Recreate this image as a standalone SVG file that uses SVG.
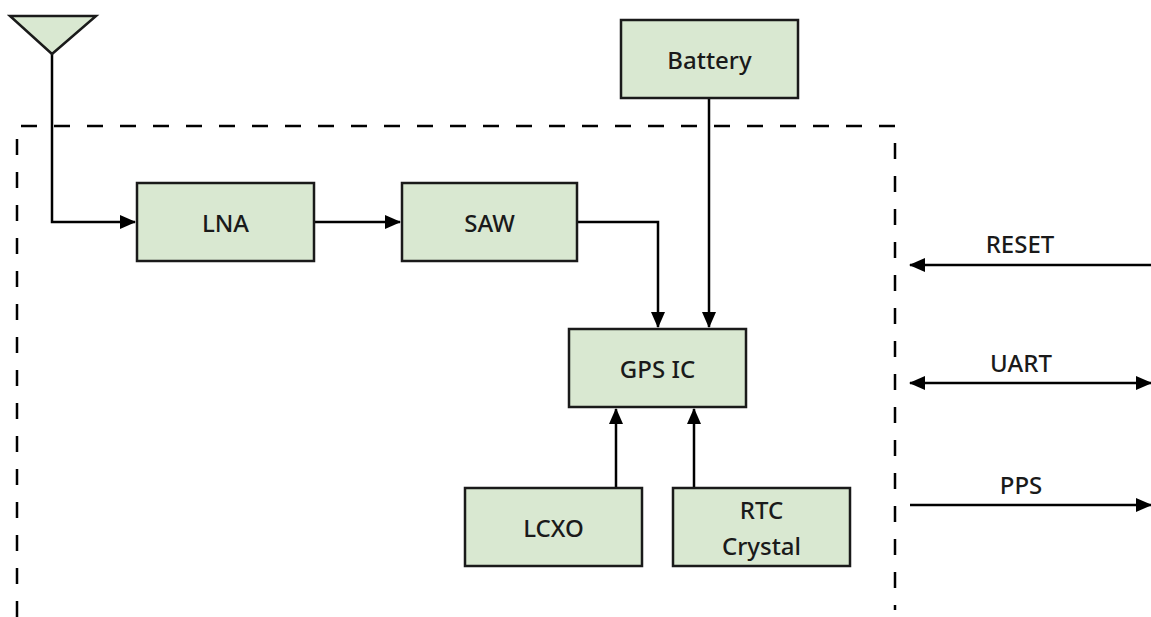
<svg xmlns="http://www.w3.org/2000/svg" width="1151" height="617" viewBox="0 0 1151 617">
<defs>
<style>
.box{fill:#d9e8d1;stroke:#1a1a1a;stroke-width:2.5}
.lbl{font-family:"Noto Sans","DejaVu Sans",sans-serif;font-size:24px;font-weight:500;fill:#1a1a1a;text-anchor:middle}
.ln{fill:none;stroke:#000;stroke-width:2.5}
.dash{fill:none;stroke:#000;stroke-width:2.5;stroke-dasharray:16 17}
</style>
<marker id="ah" markerUnits="userSpaceOnUse" markerWidth="16" markerHeight="14" refX="15" refY="7" orient="auto-start-reverse" viewBox="0 0 16 14">
<path d="M0,0 L16,7 L0,14 Z" fill="#000"/>
</marker>
</defs>
<rect width="1151" height="617" fill="#fff"/>
<g id="boundary">
<path class="dash" d="M17,617 L17,126 L895,126 L895,610"/>
</g>
<g id="connectors">
<path class="ln" d="M52,54 L52,222 L135,222" marker-end="url(#ah)"/>
<path class="ln" d="M314,222 L400,222" marker-end="url(#ah)"/>
<path class="ln" d="M577,222 L658,222 L658,327" marker-end="url(#ah)"/>
<path class="ln" d="M709,98 L709,327" marker-end="url(#ah)"/>
<path class="ln" d="M616,488 L616,409" marker-end="url(#ah)"/>
<path class="ln" d="M694,488 L694,409" marker-end="url(#ah)"/>
<path class="ln" d="M1151,265 L910,265" marker-end="url(#ah)"/>
<path class="ln" d="M910,383 L1151,383" marker-start="url(#ah)" marker-end="url(#ah)"/>
<path class="ln" d="M910,505 L1151,505" marker-end="url(#ah)"/>
</g>
<g id="antenna">
<path class="box" d="M10,16 L96,16 L52,54 Z"/>
</g>
<g id="battery">
<rect class="box" x="621" y="20" width="177" height="78"/>
<text class="lbl" x="709.5" y="59" dominant-baseline="central">Battery</text>
</g>
<g id="lna">
<rect class="box" x="137" y="183" width="177" height="78"/>
<text class="lbl" x="225.5" y="222" dominant-baseline="central">LNA</text>
</g>
<g id="saw">
<rect class="box" x="402" y="183" width="175" height="78"/>
<text class="lbl" x="489.5" y="222" dominant-baseline="central">SAW</text>
</g>
<g id="gps-ic">
<rect class="box" x="569" y="329" width="177" height="78"/>
<text class="lbl" x="657.5" y="368" dominant-baseline="central">GPS IC</text>
</g>
<g id="lcxo">
<rect class="box" x="465" y="488" width="177" height="78"/>
<text class="lbl" x="553.5" y="527" dominant-baseline="central">LCXO</text>
</g>
<g id="rtc">
<rect class="box" x="673" y="488" width="177" height="78"/>
<text class="lbl" x="761.5" y="509" dominant-baseline="central">RTC</text>
<text class="lbl" x="761.5" y="545" dominant-baseline="central">Crystal</text>
</g>
<g id="signal-labels">
<text class="lbl" x="1020" y="243" dominant-baseline="central">RESET</text>
<text class="lbl" x="1021" y="362" dominant-baseline="central">UART</text>
<text class="lbl" x="1021" y="484" dominant-baseline="central">PPS</text>
</g>
</svg>
